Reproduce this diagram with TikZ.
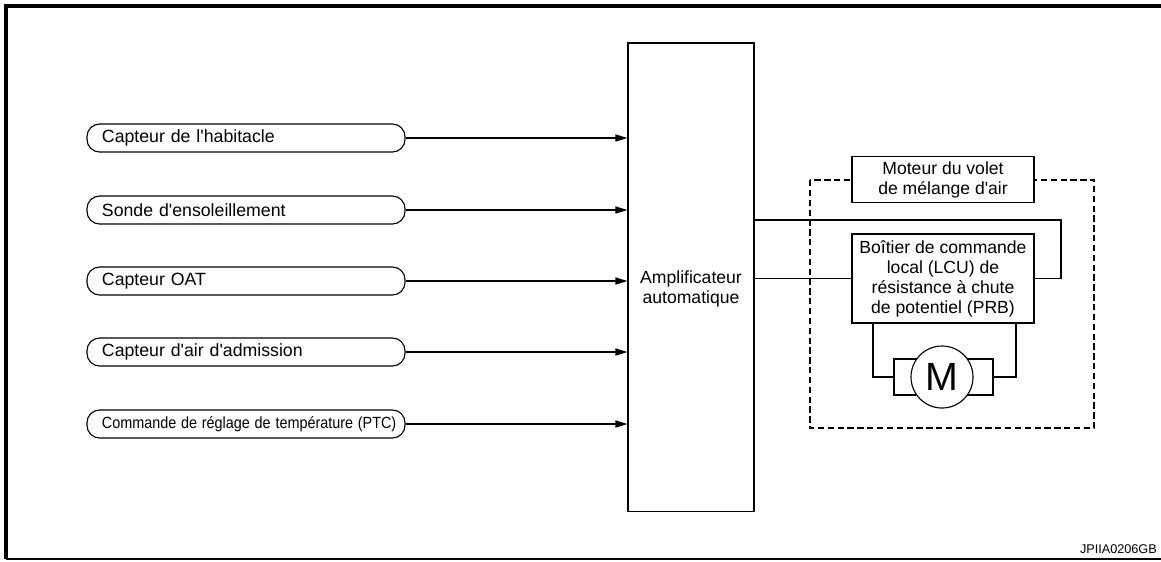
\documentclass[tikz,border=0pt]{standalone}
\usepackage{fontspec}
\setmainfont{Liberation Sans}
\usetikzlibrary{arrows.meta}

\begin{document}
\begin{tikzpicture}[x=0.025cm, y=-0.025cm,
    wire/.style={line width=0.8pt},
    sensor/.style={draw, line width=0.8pt, rounded corners=9pt, minimum height=0.7cm,
        text width=7.2cm, inner xsep=0.375cm, align=left, font=\fontsize{12.6}{14}\selectfont},
    block/.style={draw, line width=0.8pt, fill=white, align=center, font=\fontsize{12.5}{14.2}\selectfont},
    feed/.style={wire, -{Triangle[length=8.5pt, width=5pt]}}]
    % frame
    \useasboundingbox (0,0) rectangle (1161,561);
    \draw[line width=2.2pt] (1161,6) -- (6,6) -- (6,559);
    \draw[line width=1.1pt] (6,559) -- (1161,559);

    % Auto amplifier
    \node[draw, line width=0.8pt, minimum width=3.15cm, minimum height=11.7cm] (amp) at (691,277) {};
    \node[align=center, font=\fontsize{12.5}{14.2}\selectfont] (amptext) at (691,289) {Amplificateur\\automatique};

    % Sensors
    \node[sensor] (habit) at (246,138) {Capteur de l\textquotesingle habitacle};
    \node[sensor] (sun) at (246,210) {Sonde d\textquotesingle ensoleillement};
    \node[sensor] (oat) at (246,281) {Capteur OAT};
    \node[sensor] (intake) at (246,352) {Capteur d\textquotesingle air d\textquotesingle admission};
    \node[sensor, font=\fontsize{11.5}{13}\selectfont] (ptc) at (246,424)
        {\scalebox{0.89}[1]{Commande de réglage de température (PTC)}};
    \foreach \s in {habit, sun, oat, intake, ptc}
        \draw[feed] (\s.east) -- (\s.east -| amp.west);

    % Air mix door motor
    \draw[line width=0.8pt, dash pattern=on 4.5pt off 2.5pt] (810,180) rectangle (1094,428);
    \node[block, minimum width=4.55cm, minimum height=1.125cm] (mix) at (943,179.5) {Moteur du volet\\de mélange d\textquotesingle air};
    \node[block, minimum width=4.55cm, minimum height=2.225cm] (lcu) at (943,278.5)
        {Boîtier de commande\\local (LCU) de\\résistance à chute\\de potentiel (PRB)};
    \coordinate (loop) at (1061,220);
    \draw[wire] (amp.east |- loop) -- (loop) |- (lcu.east);
    \draw[wire] (amp.east |- lcu.west) -- (lcu.west);

    % Motor
    \node[draw, line width=0.8pt, minimum width=2.475cm, minimum height=0.9cm] (mbody) at (943.5,377) {};
    \node[draw, circle, line width=0.8pt, fill=white, minimum size=1.55cm, inner sep=0pt,
        font=\fontsize{28}{28}\selectfont] (motor) at (942,377) {M};
    \draw[wire] (lcu.south -| 873,0) |- (mbody.west);
    \draw[wire] (lcu.south -| 1016,0) |- (mbody.east);

    % Code
    \node[anchor=east, font=\fontsize{9}{10}\selectfont, inner sep=0pt] (code) at (1157,549) {JPIIA0206GB};
\end{tikzpicture}
\end{document}
